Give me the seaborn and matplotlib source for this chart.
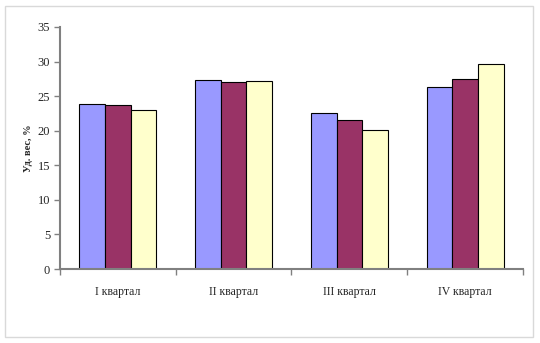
import matplotlib
matplotlib.use("Agg")
import matplotlib.pyplot as plt
from matplotlib.patches import Rectangle
import pandas as pd
import seaborn as sns

# Quarterly share, three series per quarter
quarters = ["I квартал", "II квартал", "III квартал", "IV квартал"]
series_names = ["Ряд 1", "Ряд 2", "Ряд 3"]
series_1 = [23.9, 27.4, 22.5, 26.3]
series_2 = [23.7, 27.1, 21.6, 27.5]
series_3 = [23.0, 27.2, 20.1, 29.7]
y_ticks = [0, 5, 10, 15, 20, 25, 30, 35]
y_label = "Уд. вес, %"

colors = ["#9999FF", "#993366", "#FFFFCC"]

rows = []
for name, vals in zip(series_names, [series_1, series_2, series_3]):
    for q, v in zip(quarters, vals):
        rows.append({"quarter": q, "series": name, "value": v})
df = pd.DataFrame(rows)

sns.set_theme(style="white")
plt.rcParams["font.family"] = ["Liberation Serif", "DejaVu Serif"]

fig = plt.figure(figsize=(5.4, 3.43), dpi=100)
ax = fig.add_axes([0.111, 0.2157, 0.8575, 0.7056])

sns.barplot(data=df, x="quarter", y="value", hue="series", order=quarters,
            hue_order=series_names, palette=colors, width=0.665, gap=0,
            edgecolor="black", linewidth=0.8, saturation=1, legend=False, ax=ax)

ax.set_xlim(-0.5, len(quarters) - 0.5)
ax.set_ylim(0, 35)
ax.set_yticks(y_ticks)
ax.set_yticklabels([str(t) for t in y_ticks], fontsize=9)
ax.set_xticks(range(len(quarters)))
ax.set_xticklabels(quarters, fontsize=8.5)
ax.set_xticks([i - 0.5 for i in range(len(quarters) + 1)], minor=True)
ax.tick_params(axis="x", which="major", length=0, pad=12)
ax.tick_params(axis="x", which="minor", length=4, width=1, color="#808080", direction="out", bottom=True)
ax.tick_params(axis="y", which="major", length=4, width=1, color="#808080", direction="out", left=True, pad=3)
ax.set_xlabel("")
ax.set_ylabel(y_label, fontsize=7.5, fontweight="bold")
ax.yaxis.set_label_coords(-0.058, 0.5)

for side in ["top", "right"]:
    ax.spines[side].set_visible(False)
for side in ["left", "bottom"]:
    ax.spines[side].set_color("#808080")
    ax.spines[side].set_linewidth(1.5)
ax.grid(False)

# Light frame around the whole chart area
fig.patches.append(Rectangle((5 / 540, 6 / 343), 528 / 540, 331 / 343,
                             transform=fig.transFigure, fill=False,
                             edgecolor="#D9D9D9", linewidth=1))

fig.savefig("out.png", dpi=100)
